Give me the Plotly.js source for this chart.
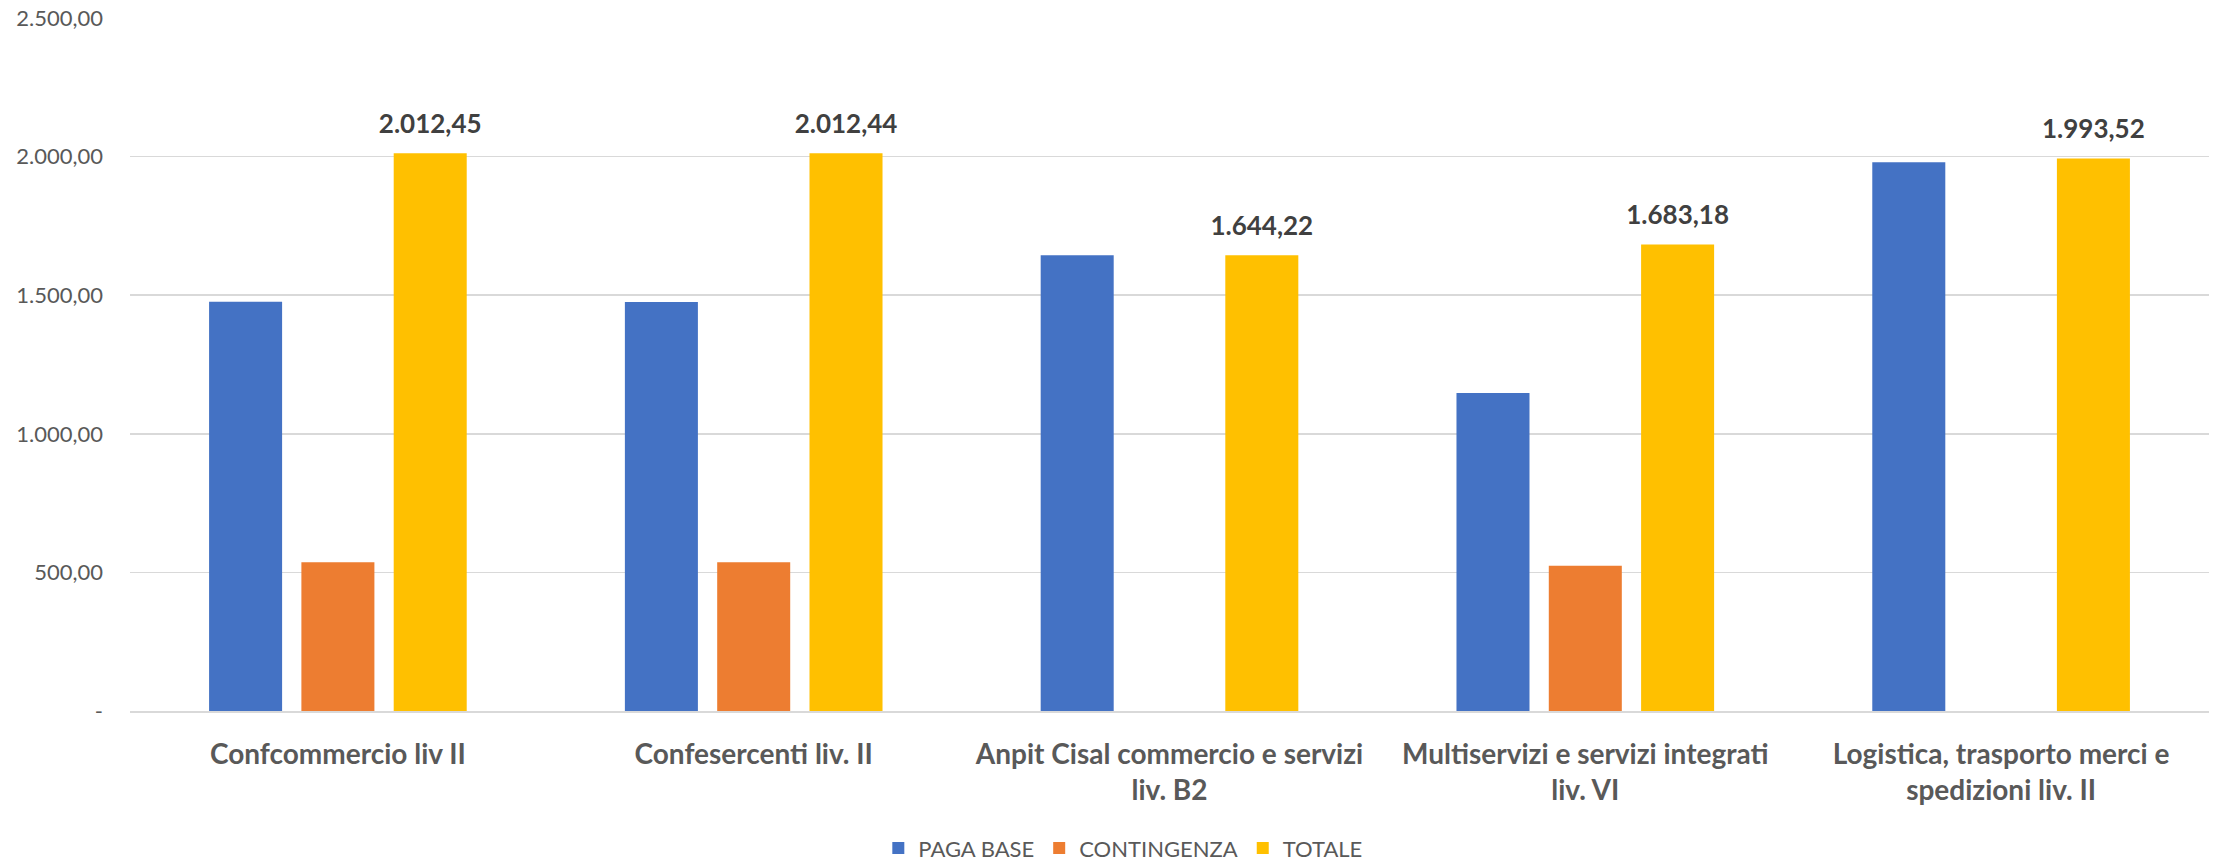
<!DOCTYPE html>
<html>
<head>
<meta charset="utf-8">
<script src="https://cdn.plot.ly/plotly-3.0.1.min.js"></script>
<style>html,body{margin:0;padding:0;background:#fff;}#chart{width:2219px;height:862px;}</style>
</head>
<body>
<div id="chart"></div>
<script>
// ---- data ----
const categories = [
  "Confcommercio liv II",
  "Confesercenti liv. II",
  "Anpit Cisal commercio e servizi<br>liv. B2",
  "Multiservizi e servizi integrati<br>liv. VI",
  "Logistica, trasporto merci e<br>spedizioni liv. II"
];
const seriesNames = ["PAGA BASE", "CONTINGENZA", "TOTALE"];
const pagaBase    = [1476.00, 1475.91, 1644.22, 1147.00, 1980.00];
const contingenza = [536.45, 536.53, null, 524.00, null];
const totale      = [2012.45, 2012.44, 1644.22, 1683.18, 1993.52];
const yTickVals   = [0, 500, 1000, 1500, 2000, 2500];
const yTickText   = ["-", "500,00", "1.000,00", "1.500,00", "2.000,00", "2.500,00"];

function fmtIt(v) {
  const parts = v.toFixed(2).split(".");
  parts[0] = parts[0].replace(/\B(?=(\d{3})+(?!\d))/g, ".");
  return parts.join(",");
}

const FONT = "Lato, Carlito, Calibri, 'Open Sans', sans-serif";
const colors = ["#4472C4", "#ED7D31", "#FFC000"];
const Y_MAX = 2500;
const LABEL_LIFT = 42; // label offset above the bar, in axis units

const traces = [
  {type: "bar", name: seriesNames[0], x: categories, y: pagaBase,
   marker: {color: colors[0]}, hoverinfo: "skip"},
  {type: "bar", name: seriesNames[1], x: categories, y: contingenza,
   marker: {color: colors[1]}, hoverinfo: "skip"},
  {type: "bar", name: seriesNames[2], x: categories, y: totale,
   marker: {color: colors[2]}, hoverinfo: "skip"},
  // label layer: same grouping on an overlaid axis, shifted slightly up
  {type: "bar", x: categories, y: categories.map(() => null), yaxis: "y2",
   showlegend: false, hoverinfo: "skip", marker: {color: "rgba(0,0,0,0)"}},
  {type: "bar", x: categories, y: categories.map(() => null), yaxis: "y2",
   showlegend: false, hoverinfo: "skip", marker: {color: "rgba(0,0,0,0)"}},
  {type: "bar", x: categories, y: totale, yaxis: "y2",
   showlegend: false, hoverinfo: "skip", marker: {color: "rgba(0,0,0,0)"},
   text: totale.map(fmtIt), textposition: "outside", cliponaxis: false,
   constraintext: "none",
   textfont: {family: FONT, size: 26, color: "#404040", weight: "bold"}}
];

const layout = {
  width: 2219, height: 862,
  margin: {l: 130, r: 10, t: 18, b: 151, pad: 0, autoexpand: false},
  paper_bgcolor: "#ffffff", plot_bgcolor: "#ffffff",
  font: {family: FONT, color: "#595959"},
  barmode: "group",
  bargap: 0.334,
  bargroupgap: 0.209,
  showlegend: true,
  legend: {orientation: "h", x: 0.506, xref: "container", xanchor: "center",
           y: 0.016, yref: "container", yanchor: "middle",
           font: {family: FONT, size: 22, color: "#595959"}, itemwidth: 30, traceorder: "normal"},
  xaxis: {
    type: "category", showgrid: false, ticks: "", showline: true,
    linecolor: "#d9d9d9", linewidth: 2,
    tickfont: {family: FONT, size: 28, color: "#595959", weight: "bold"},
    ticklabelstandoff: 17, automargin: false
  },
  yaxis: {
    range: [0, Y_MAX], tickvals: yTickVals, ticktext: yTickText,
    showgrid: true, gridcolor: "#d9d9d9", gridwidth: 1.5,
    zeroline: false, showline: false, ticks: "",
    tickfont: {family: FONT, size: 22, color: "#595959"},
    ticklabelstandoff: 26, automargin: false
  },
  yaxis2: {
    overlaying: "y", range: [-LABEL_LIFT, Y_MAX - LABEL_LIFT], visible: false,
    showgrid: false, zeroline: false
  },
  hovermode: false
};

Plotly.newPlot("chart", traces, layout, {displayModeBar: false, staticPlot: true});
</script>
</body>
</html>
